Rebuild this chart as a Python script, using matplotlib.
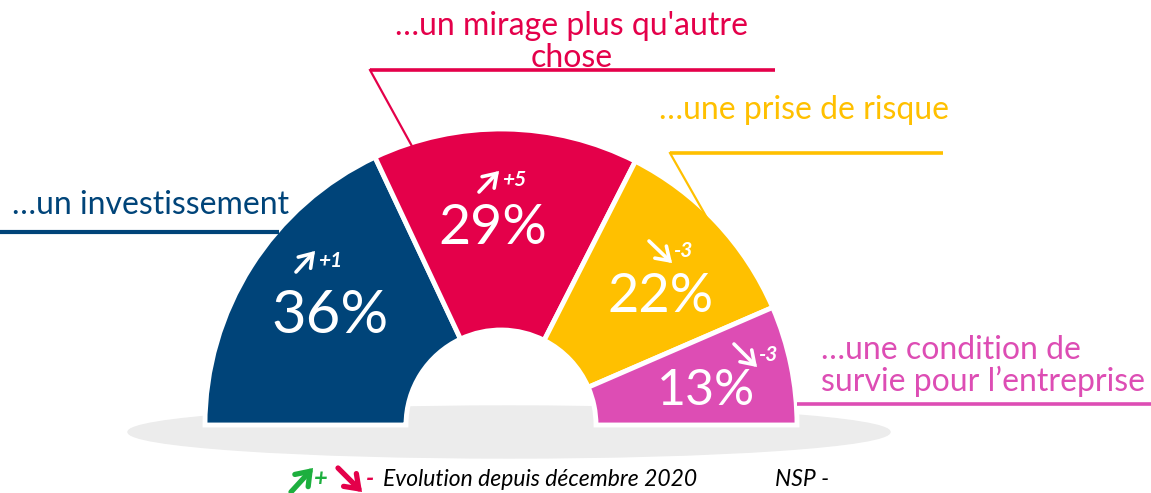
import matplotlib
matplotlib.use("Agg")
import matplotlib.pyplot as plt
from matplotlib.patches import Ellipse

plt.rcParams['font.family'] = ['Lato', 'DejaVu Sans']

# ---- data ----
categories = ["…un investissement", "…un mirage plus qu'autre\nchose",
              "…une prise de risque", "…une condition de\nsurvie pour l’entreprise"]
values = [36, 29, 22, 13]
deltas = ["+1", "+5", "-3", "-3"]
colors = ["#004479", "#E4004A", "#FFC000", "#DD4DB4"]
legend_text = "Evolution depuis décembre 2020"
nsp_text = "NSP -"

W, H = 1151, 493
fig = plt.figure(figsize=(W / 100, H / 100), dpi=100)
ax = fig.add_axes([0, 0, 1, 1])

def Y(y):
    return H - y

cx, cy, R, r_in = 501, Y(425), 296, 95

# shadow
ax.add_patch(Ellipse((509, Y(432)), 762, 52, color="#ECECEC", zorder=0))

wedges, _ = ax.pie(values + [sum(values)], colors=colors + ["none"],
                   startangle=180, counterclock=False, center=(cx, cy), radius=R,
                   wedgeprops=dict(width=R - r_in, edgecolor="white", linewidth=3.5))
wedges[-1].set_visible(False)
for w in wedges:
    w.set_zorder(2)

ax.set_xlim(0, W)
ax.set_ylim(0, H)
ax.set_aspect("equal")
ax.axis("off")

# percentage labels
pct_pos = [(330, 316), (493, 229), (661, 296), (706, 391)]
pct_size = [43, 40, 39, 36]
for v, (x, y), s in zip(values, pct_pos, pct_size):
    ax.text(x, Y(y), f"{v}%", color="white", fontsize=s, ha="center", va="center",
            zorder=5)

def arrow(tail, tip, color, lw, hl=0.9, hw=0.6):
    ax.annotate("", xy=(tip[0], Y(tip[1])), xytext=(tail[0], Y(tail[1])),
                arrowprops=dict(arrowstyle=f"->,head_length={hl},head_width={hw}",
                                color=color, lw=lw, shrinkA=0, shrinkB=0,
                                capstyle="round", joinstyle="miter"),
                zorder=6)

# delta labels with arrows
arrow_pts = [((296, 272), (315, 251)), ((479, 192), (499, 171)),
             ((649, 241), (672, 263)), ((734, 344), (757, 367))]
delta_txt_pos = [(318, 261), (502, 180), (673, 251), (758, 355)]
for d, (tail, tip), (x, y) in zip(deltas, arrow_pts, delta_txt_pos):
    arrow(tail, tip, "white", 2.6)
    ax.text(x, Y(y), d, color="white", fontsize=15, fontweight="bold",
            style="italic", ha="left", va="center", zorder=5)

# category labels and leader lines
ax.text(12, Y(205), categories[0], color=colors[0], fontsize=23, ha="left", va="center")
ax.plot([0, 279], [Y(232), Y(232)], color=colors[0], lw=3, solid_capstyle="butt")

ax.text(572, Y(42), categories[1], color=colors[1], fontsize=23, ha="center", va="center",
        linespacing=1.05)
ax.plot([370, 775], [Y(70), Y(70)], color=colors[1], lw=2.6, solid_capstyle="butt")
ax.plot([370, 413], [Y(70), Y(148)], color=colors[1], lw=1.6)

ax.text(659, Y(110), categories[2], color=colors[2], fontsize=23, ha="left", va="center")
ax.plot([670, 943], [Y(153), Y(153)], color=colors[2], lw=2.6, solid_capstyle="butt")
ax.plot([670, 707], [Y(153), Y(218)], color=colors[2], lw=1.6)

ax.text(821, Y(366), categories[3], color=colors[3], fontsize=23, ha="left", va="center",
        linespacing=1.05)
ax.plot([797, W], [Y(404), Y(404)], color=colors[3], lw=2.6, solid_capstyle="butt")

# legend line
arrow((291, 492), (313, 468), "#1DAF3E", 3.8, 0.9, 0.65)
ax.text(314, Y(479), "+", color="#1DAF3E", fontsize=17, fontweight="bold",
        style="italic", ha="left", va="center")
arrow((338, 468), (362, 492), "#E4004A", 3.8, 0.9, 0.65)
ax.text(366, Y(478), "-", color="#E4004A", fontsize=17, fontweight="bold",
        style="italic", ha="left", va="center")
ax.text(383, Y(479), legend_text, color="black", fontsize=16.5,
        style="italic", ha="left", va="center")
ax.text(775, Y(479), nsp_text, color="black", fontsize=16.5, style="italic",
        ha="left", va="center")

fig.savefig("out.png", dpi=100)
